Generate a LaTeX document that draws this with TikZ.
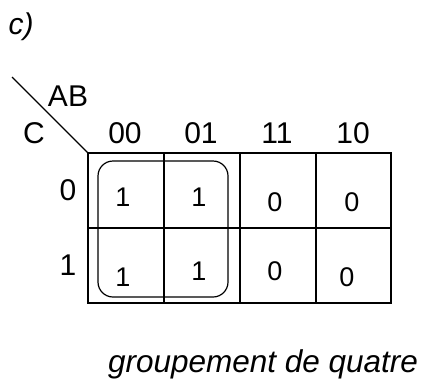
\documentclass[tikz,border=0pt]{standalone}
\usepackage{fontspec}
\setmainfont{Liberation Sans}
\usetikzlibrary{positioning}

\tikzset{
  kvlabel/.style={font=\fontsize{30}{34}\selectfont, inner sep=0pt},
  kvcell/.style={font=\fontsize{27}{31}\selectfont, inner sep=0pt},
  kvnote/.style={font=\itshape\fontsize{31.5}{36}\selectfont, inner sep=0pt, anchor=base},
}

\begin{document}
\begin{tikzpicture}[x=1pt, y=-1pt]
    \useasboundingbox (0,0) rectangle (422,383);
    \node[kvnote, font=\itshape\fontsize{30}{34}\selectfont] (title) at (21,34) {c)};
    % table
    \coordinate (corner) at (88,153);
    \coordinate (diag) at (12,77);
    \draw[line width=1.5pt] (corner) rectangle (391,303);
    \foreach \x in {164,240,316} {
        \draw[line width=1.5pt] (\x,153) -- (\x,303);
    }
    \draw[line width=1.5pt] (88,228) -- (391,228);
    \draw[line width=1.3pt] (diag) -- (corner);
    \node[kvlabel] (ab) at (68,96) {AB};
    \node[kvlabel] (c) at (34,133) {C};
    \foreach \lab [count=\i from 0] in {00,01,11,10} {
        \node[kvlabel] (col\i) at (125+76*\i,133) {\lab};
    }
    \node[kvlabel] (row0) at (68,190) {0};
    \node[kvlabel] (row1) at (68,265) {1};
    \foreach \x/\y/\v [count=\i] in {123/197/1, 199/197/1, 275/202/0, 352/202/0,
                                     123/277/1, 199/271/1, 275/271/0, 347/277/0} {
        \node[kvcell] (val\i) at (\x,\y) {\v};
    }
    % group of four
    \draw[line width=1.2pt, rounded corners=15pt] (98,161) rectangle (228,297);
    \node[kvnote] (note) at (263,372) {groupement de quatre};
\end{tikzpicture}
\end{document}
